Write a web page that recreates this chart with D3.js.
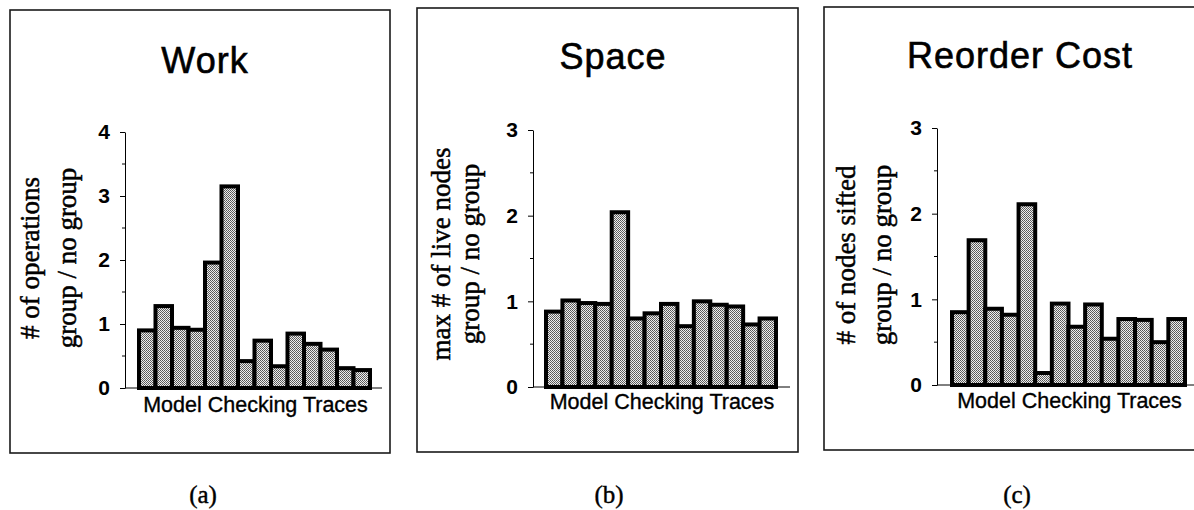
<!DOCTYPE html>
<html>
<head>
<meta charset="utf-8">
<script src="https://cdn.jsdelivr.net/npm/d3@7"></script>
<style>
  html, body { margin: 0; padding: 0; background: #fff; }
  svg { display: block; }
</style>
</head>
<body>
<svg id="fig" width="1194" height="510"></svg>
<script>
// Fourteen model checking traces, ratio of "group" to "no group" runs.
const traces = d3.range(1, 15).map(i => "T" + i);

const workValues    = [0.90, 1.28, 0.94, 0.91, 1.96, 3.15, 0.42, 0.74, 0.34, 0.85, 0.69, 0.60, 0.31, 0.28];
const spaceValues   = [0.88, 1.01, 0.98, 0.97, 2.04, 0.80, 0.86, 0.97, 0.71, 1.00, 0.96, 0.94, 0.73, 0.80];
const reorderValues = [0.85, 1.69, 0.89, 0.82, 2.11, 0.14, 0.95, 0.68, 0.94, 0.54, 0.77, 0.76, 0.50, 0.77];

const panelTitles  = ["Work", "Space", "Reorder Cost"];
const yLabelLines  = [["# of operations", "group / no group"],
                      ["max # of live nodes", "group / no group"],
                      ["# of nodes sifted", "group / no group"]];
const yMaxima      = [4, 3, 3];
const xAxisLabel   = "Model Checking Traces";
const captions     = ["(a)", "(b)", "(c)"];

const seriesList = [workValues, spaceValues, reorderValues];

// Layout of each panel: frame box, plot area and label anchors.
const layouts = [
  { frame: [10, 10, 390, 453], axisX: 125, y0: 388, yTop: 132, barL: 137, barR: 372, lineEnd: 382,
    titleX: 205, titleY: 73, xLabY: 412, ylab: [39, 76], ylabY: 258, capX: 203 },
  { frame: [417, 8, 798, 452], axisX: 533, y0: 387, yTop: 130, barL: 544, barR: 778, lineEnd: 790,
    titleX: 613, titleY: 69, xLabY: 409, ylab: [450, 479], ylabY: 254, capX: 609 },
  { frame: [824, 7, 1210, 450], axisX: 937, y0: 385, yTop: 128, barL: 950, barR: 1187, lineEnd: 1194,
    titleX: 1020, titleY: 68, xLabY: 408, ylab: [855, 891], ylabY: 255, capX: 1017 }
];

const svg = d3.select("#fig");

// Stippled grey fill used by the bars (pixel checkerboard).
const defs = svg.append("defs");
const pat = defs.append("pattern")
  .attr("id", "stipple")
  .attr("patternUnits", "userSpaceOnUse")
  .attr("width", 2).attr("height", 2);
pat.append("rect").attr("width", 2).attr("height", 2).attr("fill", "#eeeeee");
pat.append("rect").attr("x", 0).attr("y", 0).attr("width", 1).attr("height", 1).attr("fill", "#555555");
pat.append("rect").attr("x", 1).attr("y", 1).attr("width", 1).attr("height", 1).attr("fill", "#666666");

const sans = "Arial, 'Liberation Sans', Helvetica, sans-serif";
const serif = "'Times New Roman', 'Liberation Serif', Times, serif";

layouts.forEach((L, p) => {
  const g = svg.append("g");
  const values = seriesList[p];

  // Frame around the panel
  g.append("rect")
    .attr("x", L.frame[0]).attr("y", L.frame[1])
    .attr("width", L.frame[2] - L.frame[0]).attr("height", L.frame[3] - L.frame[1])
    .attr("fill", "none").attr("stroke", "#1a1a1a").attr("stroke-width", 1.6);

  // Title
  g.append("text")
    .attr("x", L.titleX).attr("y", L.titleY)
    .attr("text-anchor", "middle")
    .style("font-family", sans).style("font-size", "36px").style("letter-spacing", "1px")
    .attr("stroke", "#000").attr("stroke-width", 0.6)
    .text(panelTitles[p]);

  const y = d3.scaleLinear().domain([0, yMaxima[p]]).range([L.y0, L.yTop]);
  const x = d3.scaleBand().domain(traces).range([L.barL + 2, L.barR - 2]).padding(0);

  // Minor ticks at half units
  const minor = d3.range(0.5, yMaxima[p], 1);
  g.selectAll(".minor").data(minor).join("line")
    .attr("x1", L.axisX - 3).attr("x2", L.axisX)
    .attr("y1", d => y(d)).attr("y2", d => y(d))
    .attr("stroke", "#000").attr("stroke-width", 1);

  // Y axis with major ticks
  const yAxis = d3.axisLeft(y).ticks(yMaxima[p]).tickFormat(d3.format("d"))
    .tickSizeInner(5).tickSizeOuter(0).tickPadding(10);
  const ya = g.append("g").attr("transform", `translate(${L.axisX},0)`).call(yAxis);
  ya.select(".domain").attr("stroke", "#000").attr("stroke-width", 1);
  ya.selectAll(".tick line").attr("stroke", "#000").attr("stroke-width", 1);
  ya.selectAll(".tick text")
    .style("font-family", sans).style("font-size", "21px").style("font-weight", "bold")
    .attr("fill", "#000");

  // Baseline
  g.append("line")
    .attr("x1", L.axisX).attr("x2", L.lineEnd)
    .attr("y1", y(0)).attr("y2", y(0))
    .attr("stroke", "#000").attr("stroke-width", 1);

  // Bars
  g.selectAll(".bar").data(values).join("rect")
    .attr("x", (d, i) => x(traces[i]))
    .attr("y", d => y(d))
    .attr("width", x.bandwidth())
    .attr("height", d => y(0) - y(d))
    .attr("fill", "url(#stipple)")
    .attr("stroke", "#000").attr("stroke-width", 4)
    .attr("stroke-linejoin", "miter");

  // X axis label
  g.append("text")
    .attr("x", (L.barL + L.barR) / 2 + 1).attr("y", L.xLabY)
    .attr("text-anchor", "middle")
    .style("font-family", sans).style("font-size", "21.5px")
    .attr("stroke", "#000").attr("stroke-width", 0.35)
    .text(xAxisLabel);

  // Two-line rotated y label
  yLabelLines[p].forEach((line, k) => {
    g.append("text")
      .attr("transform", `translate(${L.ylab[k]},${L.ylabY}) rotate(-90)`)
      .attr("text-anchor", "middle")
      .style("font-family", serif).style("font-size", "27px")
      .attr("stroke", "#000").attr("stroke-width", 0.5)
      .text(line);
  });

  // Caption below the frame
  svg.append("text")
    .attr("x", L.capX).attr("y", 503)
    .attr("text-anchor", "middle")
    .style("font-family", serif).style("font-size", "25px")
    .attr("stroke", "#000").attr("stroke-width", 0.4)
    .text(captions[p]);
});
</script>
</body>
</html>
